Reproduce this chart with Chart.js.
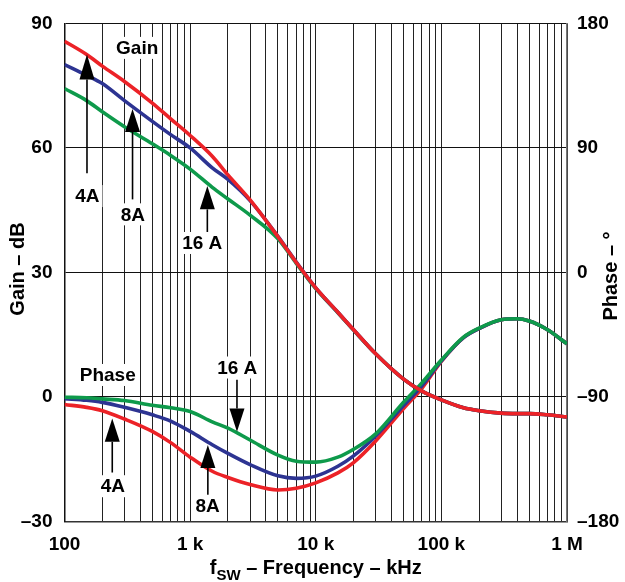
<!DOCTYPE html>
<html>
<head>
<meta charset="utf-8">
<script src="https://cdn.jsdelivr.net/npm/chart.js@4/dist/chart.umd.min.js"></script>
<style>
  html, body { margin: 0; padding: 0; background: #fff; }
  #wrap { width: 625px; height: 582px; position: relative; }
</style>
</head>
<body>
<div id="wrap"><canvas id="c"></canvas></div>
<script>
// ---- Data (frequency in Hz, gain in dB, phase in degrees) ----
const freqHz = [100,150,200,300,500,700,1000,1500,2000,3000,5000,7000,10000,15000,20000,30000,50000,70000,100000,150000,200000,300000,400000,500000,700000,1000000];

const gain4A  = [85.7,82.5,79.7,76.0,70.8,67.0,63.0,58.0,53.5,47.5,38.6,32.4,26.3,20.4,16.2,10.4,4.3,1.4,-0.7,-2.6,-3.3,-3.9,-4.0,-4.0,-4.3,-4.8];
const gain8A  = [80.1,77.5,75.5,71.4,66.4,63.2,60.0,55.2,52.4,47.3,38.7,32.5,26.3,20.4,16.2,10.4,4.3,1.4,-0.7,-2.6,-3.3,-3.9,-4.0,-4.0,-4.3,-4.8];
const gain16A = [74.3,71.4,68.7,65.1,61.0,58.2,54.9,50.5,47.7,43.8,38.1,32.2,26.1,20.3,16.1,10.4,4.3,1.4,-0.7,-2.6,-3.3,-3.9,-4.0,-4.0,-4.3,-4.8];

const phase4A  = [-95.4,-97.5,-99.9,-105.9,-114.9,-123.0,-133.5,-143.7,-148.2,-153.3,-157.2,-156.0,-152.1,-144.9,-137.4,-121.8,-98.4,-83.7,-64.2,-47.1,-40.5,-34.2,-33.5,-35.1,-41.4,-51.6];
const phase8A  = [-91.2,-92.4,-93.9,-97.5,-102.9,-107.4,-114.9,-124.5,-130.8,-138.9,-147.0,-148.8,-147.2,-140.1,-132.6,-118.2,-96.2,-81.9,-63.9,-47.1,-40.5,-34.2,-33.5,-35.1,-41.4,-51.6];
const phase16A = [-90.2,-90.6,-91.4,-92.6,-96.0,-97.8,-100.5,-108.0,-112.5,-121.1,-132.0,-136.4,-137.1,-133.5,-127.8,-116.7,-93.8,-79.8,-63.3,-46.8,-40.2,-34.2,-33.5,-35.1,-41.4,-51.6];

// Axis ticks
const xDecades = [100, 1000, 10000, 100000, 1000000];
const xTickLabels = ['100', '1 k', '10 k', '100 k', '1 M'];
const gainTicks = [-30, 0, 30, 60, 90];
const phaseTicks = [-180, -90, 0, 90, 180];

// Annotations (positions in data units: frequency Hz, gain dB)
const annotTexts = [
  { text: 'Gain',  f: 379,  db: 84.1 },
  { text: 'Phase', f: 221,  db: 5.3 },
  { text: '4A',    f: 152,  db: 48.4 },
  { text: '8A',    f: 350,  db: 44.0 },
  { text: '16 A',  f: 1249, db: 37.1 },
  { text: '16 A',  f: 2371, db: 7.1 },
  { text: '4A',    f: 243,  db: -21.5 },
  { text: '8A',    f: 1379, db: -26.2 }
];
const annotArrows = [
  { f: 151,  tip: 82.5,  base: 76.5,  tail: 53.9 },
  { f: 348,  tip: 69.4,  base: 63.85, tail: 47.6 },
  { f: 1371, tip: 50.8,  base: 45.2,  tail: 39.6 },
  { f: 2360, tip: -8.4,  base: -2.8,  tail: 4.17 },
  { f: 240,  tip: -5.2,  base: -10.8, tail: -18.2 },
  { f: 1384, tip: -11.55,base: -17.1, tail: -23.9 }
];

const RED = '#ec2227', BLUE = '#2d3492', GREEN = '#0e9a4b';
const FONT = '"Liberation Sans", Arial, sans-serif';

function pts(ys) { return freqHz.map((f, i) => ({ x: f, y: ys[i] })); }

function ds(label, ys, color, axis) {
  return {
    label, data: pts(ys), yAxisID: axis,
    borderColor: color, backgroundColor: color,
    borderWidth: 3.6, pointRadius: 0, fill: false,
    cubicInterpolationMode: 'monotone'
  };
}

function dashLabel(v) { return v < 0 ? '\u2013' + Math.abs(v) : String(v); }

const overlay = {
  id: 'overlay',
  afterDatasetsDraw(chart) {
    const ctx = chart.ctx;
    const xs = chart.scales.x, ys = chart.scales.y;
    const ca = chart.chartArea;
    ctx.save();
    // arrows
    ctx.strokeStyle = '#000';
    ctx.fillStyle = '#000';
    ctx.lineWidth = 1.6;
    annotArrows.forEach(a => {
      const x = xs.getPixelForValue(a.f);
      const yt = ys.getPixelForValue(a.tip);
      const yb = ys.getPixelForValue(a.base);
      const yl = ys.getPixelForValue(a.tail);
      ctx.beginPath();
      ctx.moveTo(x, yb); ctx.lineTo(x, yl); ctx.stroke();
      ctx.beginPath();
      ctx.moveTo(x, yt); ctx.lineTo(x - 7.5, yb); ctx.lineTo(x + 7.5, yb); ctx.closePath();
      ctx.fill();
    });
    // texts
    ctx.font = 'bold 19px ' + FONT;
    ctx.textAlign = 'center';
    ctx.textBaseline = 'middle';
    annotTexts.forEach(t => {
      const x = xs.getPixelForValue(t.f);
      const y = ys.getPixelForValue(t.db);
      const w = ctx.measureText(t.text).width;
      ctx.fillStyle = '#fff';
      ctx.fillRect(x - w / 2 - 3, y - 11, w + 6, 22);
      ctx.fillStyle = '#000';
      ctx.fillText(t.text, x, y + 1);
    });
    // axis titles
    ctx.font = 'bold 20px ' + FONT;
    ctx.save();
    ctx.translate(18, 269);
    ctx.rotate(-Math.PI / 2);
    ctx.fillText('Gain – dB', 0, 0);
    ctx.restore();
    ctx.save();
    ctx.translate(611, 276);
    ctx.rotate(-Math.PI / 2);
    ctx.fillText('Phase – °', 0, 0);
    ctx.restore();
    // x title with subscript
    const mainA = 'f', sub = 'SW', mainB = ' – Frequency – kHz';
    ctx.textAlign = 'left';
    ctx.textBaseline = 'alphabetic';
    ctx.font = 'bold 20px ' + FONT;
    const wA = ctx.measureText(mainA).width, wB = ctx.measureText(mainB).width;
    ctx.font = 'bold 15px ' + FONT;
    const wS = ctx.measureText(sub).width;
    const cx = (ca.left + ca.right) / 2;
    let x0 = cx - (wA + wS + wB) / 2;
    const base = 574;
    ctx.font = 'bold 20px ' + FONT;
    ctx.fillText(mainA, x0, base);
    ctx.font = 'bold 15px ' + FONT;
    ctx.fillText(sub, x0 + wA, base + 6);
    ctx.font = 'bold 20px ' + FONT;
    ctx.fillText(mainB, x0 + wA + wS, base);
    ctx.restore();
  }
};

new Chart(document.getElementById('c'), {
  type: 'line',
  data: {
    datasets: [
      ds('Gain 4A', gain4A, RED, 'y'),
      ds('Gain 8A', gain8A, BLUE, 'y'),
      ds('Gain 16A', gain16A, GREEN, 'y'),
      ds('Phase 16A', phase16A, GREEN, 'y1'),
      ds('Phase 8A', phase8A, BLUE, 'y1'),
      ds('Phase 4A', phase4A, RED, 'y1')
    ]
  },
  options: {
    responsive: true,
    maintainAspectRatio: false,
    animation: false,
    devicePixelRatio: 1,
    layout: { padding: { top: 18.5, left: 0, right: 0, bottom: 0 } },
    plugins: { legend: { display: false }, tooltip: { enabled: false } },
    scales: {
      x: {
        type: 'logarithmic', min: 100, max: 1000000,
        afterBuildTicks(s) {
          const t = [];
          xDecades.forEach((d, i) => {
            if (i === xDecades.length - 1) { t.push({ value: d }); return; }
            for (let m = 1; m <= 9; m++) t.push({ value: d * m });
          });
          s.ticks = t;
        },
        afterFit(s) { s.height = 60.5; },
        grid: { color: '#222', lineWidth: 1, drawTicks: false },
        border: { color: '#333', width: 1.5 },
        ticks: {
          autoSkip: false, maxRotation: 0, padding: 12,
          color: '#000', font: { family: FONT, size: 19, weight: 'bold' },
          callback(v) {
            const i = xDecades.indexOf(v);
            return i >= 0 ? xTickLabels[i] : '';
          }
        }
      },
      y: {
        position: 'left', min: -30, max: 90,
        afterBuildTicks(s) { s.ticks = gainTicks.map(v => ({ value: v })); },
        afterFit(s) { s.width = 64.5; },
        grid: { color: '#111', lineWidth: 1, drawTicks: false },
        border: { color: '#111', width: 1.5 },
        ticks: { padding: 12, color: '#000', font: { family: FONT, size: 19, weight: 'bold' },
          callback: dashLabel }
      },
      y1: {
        position: 'right', min: -180, max: 180,
        afterBuildTicks(s) { s.ticks = phaseTicks.map(v => ({ value: v })); },
        afterFit(s) { s.width = 58; },
        grid: { display: false, drawTicks: false },
        border: { color: '#777', width: 1.5 },
        ticks: { padding: 10, color: '#000', font: { family: FONT, size: 19, weight: 'bold' },
          callback: dashLabel }
      }
    }
  },
  plugins: [overlay]
});
</script>
</body>
</html>
